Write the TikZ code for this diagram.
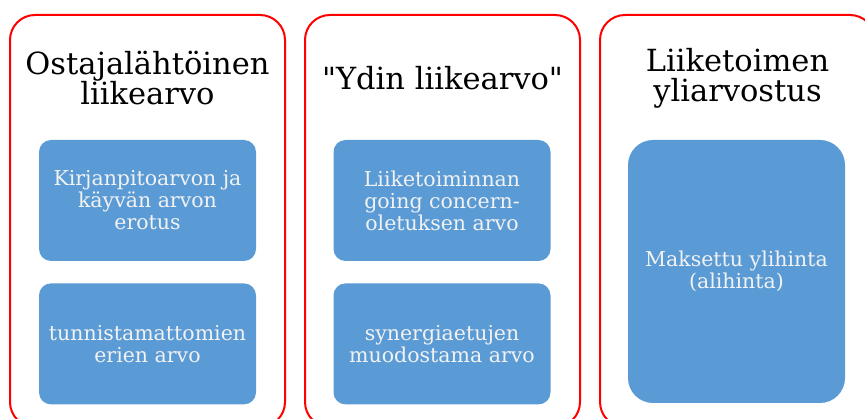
\documentclass[tikz,border=0pt]{standalone}
\usepackage{fontspec}
\setmainfont{DejaVu Serif}
\usetikzlibrary{positioning}
\definecolor{boxblue}{HTML}{5B9BD5}
\definecolor{boxtext}{HTML}{F2F2F2}
\tikzset{
	column/.style = {draw=red, line width=2pt, rounded corners=25pt, minimum width=275pt, minimum height=412pt, inner sep=0pt},
	heading/.style = {align=center, inner sep=0pt, font=\fontsize{30.5}{30}\selectfont},
	item/.style = {fill=boxblue, text=boxtext, rounded corners=12pt, minimum width=217pt, minimum height=121pt, inner sep=0pt, align=center, font=\fontsize{20.5}{22}\selectfont}
}

\begin{document}
\begin{tikzpicture}[x=1pt, y=-1pt]
	\useasboundingbox (0,0) rectangle (865,419);
	\clip (0,0) rectangle (865,419);
	% ====== Columns ========
	\coordinate (C1) at (147.5,221);
	\coordinate (C2) at (442.5,221);
	\coordinate (C3) at (737.5,221);
	\node[column] (col1) at (C1) {};
	\node[column] (col2) at (C2) {};
	\node[column] (col3) at (C3) {};
	% ====== Headings ========
	\node[heading] (head1) at (147.5,78) {Ostajalähtöinen\\liikearvo};
	\node[heading] (head2) at (442.5,78) {\textquotedbl Ydin liikearvo\textquotedbl};
	\node[heading] (head3) at (737.5,78) {Liiketoimen\\yliarvostus};
	% ====== Items ========
	\node[item] (kirja) at (147.5,200.5) {Kirjanpitoarvon ja\\käyvän arvon\\erotus};
	\node[item, below=22pt of kirja] (tunn) {tunnistamattomien\\erien arvo};
	\node[item] (going) at (442,200.5) {Liiketoiminnan\\going concern-\\oletuksen arvo};
	\node[item, below=22pt of going] (syn) {synergiaetujen\\muodostama arvo};
	\node[item, minimum height=263pt, rounded corners=25pt] (ylih) at (736.5,271.5) {Maksettu ylihinta\\(alihinta)};
\end{tikzpicture}
\end{document}
